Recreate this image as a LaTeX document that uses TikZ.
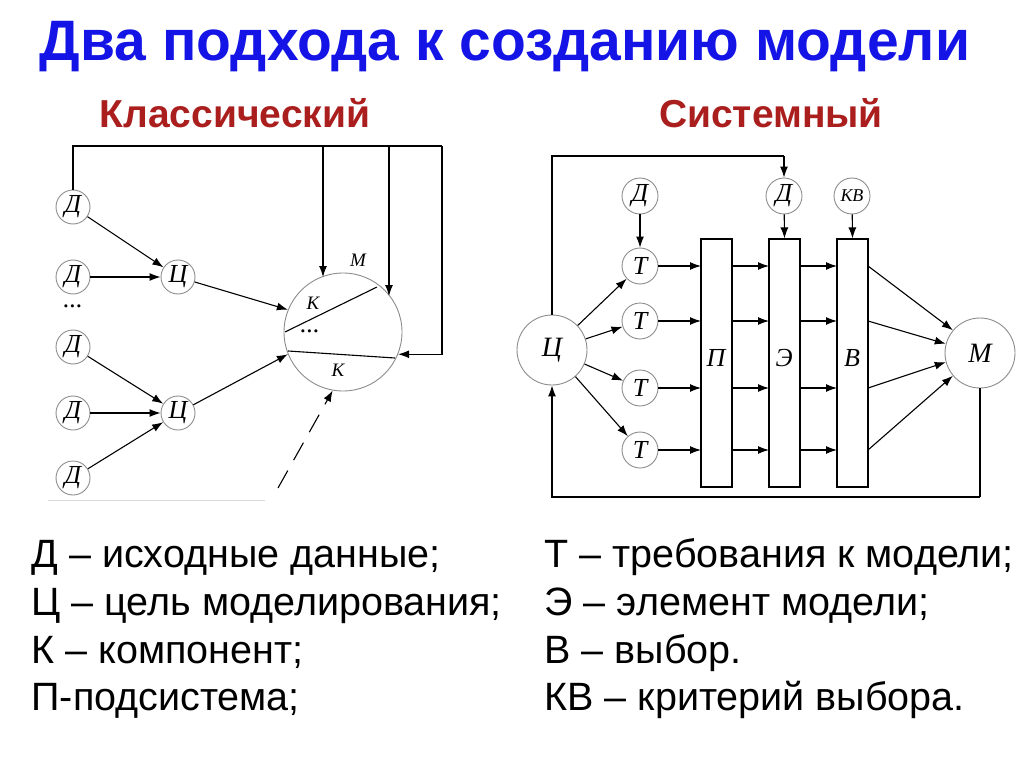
\documentclass[tikz,border=0pt]{standalone}
\usepackage{fontspec}
\setmainfont{Liberation Sans}
\newfontfamily\tnr{Liberation Serif}
\usetikzlibrary{arrows.meta}
\definecolor{ttl}{RGB}{20,20,230}
\definecolor{sub}{RGB}{170,30,30}
\begin{document}
\begin{tikzpicture}[x=1pt,y=-1pt,
  circ/.style={circle,draw=black!45,line width=0.9pt,inner sep=0pt,minimum size=#1,font=\tnr\itshape\fontsize{26}{26}\selectfont},
  circ/.default=34pt,
  bar/.style={draw=black,line width=1.1pt,minimum width=31pt,minimum height=248pt,inner sep=0pt},
  arr/.style={-{Latex[length=11pt,width=8pt]},line width=1.1pt},
  ln/.style={line width=1.1pt},
  lbl/.style={font=\tnr\itshape\fontsize{26}{26}\selectfont},
  leg/.style={anchor=base west,font=\fontsize{39.5}{40}\selectfont}]
\useasboundingbox (0,0) rectangle (1024,767);
\node[font=\bfseries\fontsize{57}{57}\selectfont,text=ttl] (title) at (505,47) {Два подхода к созданию модели};
\node[font=\bfseries\fontsize{39}{39}\selectfont,text=sub] (h1) at (235,113) {Классический};
\node[font=\bfseries\fontsize{39}{39}\selectfont,text=sub] (h2) at (771,113) {Системный};
% left
\node[circ] (d1) at (73,207) {Д};
\node[circ] (d2) at (73,277) {Д};
\node[lbl] (dots1) at (73,306) {...};
\node[circ] (d3) at (73,347) {Д};
\node[circ] (d4) at (73,413) {Д};
\node[circ] (d5) at (73,478) {Д};
\node[circ] (c1) at (178,277) {Ц};
\node[circ] (c2) at (178,413) {Ц};
\node[circ=118pt] (big) at (343,332) {};
\node[lbl,font=\tnr\itshape\fontsize{19}{19}\selectfont] (m1) at (358,260) {М};
\node[lbl,font=\tnr\itshape\fontsize{19}{19}\selectfont] (k1) at (313,303) {К};
\node[lbl,font=\tnr\itshape\fontsize{19}{19}\selectfont] (k2) at (338,370) {К};
\node[lbl] (dots2) at (310,331) {...};
\coordinate (ch1a) at (285,332); \coordinate (ch1b) at (377,287);
\coordinate (ch2a) at (288,351); \coordinate (ch2b) at (395,358);
\draw[ln] (ch1a) -- (ch1b);
\draw[ln] (ch2a) -- (ch2b);
\draw[arr] (d1) -- (c1);
\draw[arr] (d2) -- (c1);
\draw[arr] (c1) -- (big.158);
\draw[arr] (d3) -- (c2);
\draw[arr] (d4) -- (c2);
\draw[arr] (d5) -- (c2);
\draw[arr] (c2) -- (big.202);
\coordinate (fbR) at (442,146);
\draw[ln] (d1.north) |- (fbR);
\draw[arr] (fbR) |- (big.-22);
\draw[arr] (323,146) -- (323,277);
\draw[arr] (389,146) -- (389,296);
\coordinate (dsh) at (278,488);
\draw[arr,dash pattern=on 20pt off 12pt] (dsh) -- (big.-100);
\draw[black!15,line width=1pt] (48,500) -- (265,500);
% right
\node[circ=70pt,font=\tnr\itshape\fontsize{28}{28}\selectfont] (C) at (552,350) {Ц};
\node[circ=70pt,font=\tnr\itshape\fontsize{28}{28}\selectfont] (M) at (980,353) {М};
\node[circ=36pt] (t1) at (640,266) {Т};
\node[circ=36pt] (t2) at (640,321) {Т};
\node[circ=36pt] (t3) at (640,388) {Т};
\node[circ=36pt] (t4) at (640,450) {Т};
\node[circ=36pt] (dA) at (640,196) {Д};
\node[circ=36pt] (dB) at (784,196) {Д};
\node[circ=36pt,font=\tnr\itshape\fontsize{18}{18}\selectfont] (kv) at (852,196) {КВ};
\node[bar] (P) at (716.5,363) {};
\node[bar] (E) at (784.5,363) {};
\node[bar] (B) at (852.5,363) {};
\node[lbl] (lp) at (716,358) {П};
\node[lbl] (le) at (784,358) {Э};
\node[lbl] (lb) at (852,358) {В};
\draw[arr] (dA) -- (t1);
\draw[arr] (dB) -- (E.north);
\draw[arr] (kv) -- (B.north);
\foreach \t in {t1,t2,t3,t4} \draw[arr] (C) -- (\t);
\foreach \y in {266,321,388,450} {
  \draw[arr] (658,\y) -- (701,\y);
  \draw[arr] (732,\y) -- (769,\y);
  \draw[arr] (800,\y) -- (837,\y);
}
\draw[arr] (868,266) -- (M.140);
\draw[arr] (868,321) -- (M.165);
\draw[arr] (868,388) -- (M.195);
\draw[arr] (868,450) -- (M.220);
\coordinate (top) at (784,156);
\draw[ln] (C.north) |- (top);
\draw[arr] (top) -- (dB.north);
\coordinate (bot) at (980,497);
\draw[ln] (M.south) -- (bot);
\draw[arr] (bot) -| (C.south);
% legend
\node[leg] (l1) at (28,567) {Д – исходные данные;};
\node[leg] (l2) at (28,615) {Ц – цель моделирования;};
\node[leg] (l3) at (28,663) {К – компонент;};
\node[leg] (l4) at (28,710) {П-подсистема;};
\node[leg] (r1) at (541,567) {Т – требования к модели;};
\node[leg] (r2) at (541,615) {Э – элемент модели;};
\node[leg] (r3) at (541,663) {В – выбор.};
\node[leg] (r4) at (541,710) {КВ – критерий выбора.};
\end{tikzpicture}
\end{document}
